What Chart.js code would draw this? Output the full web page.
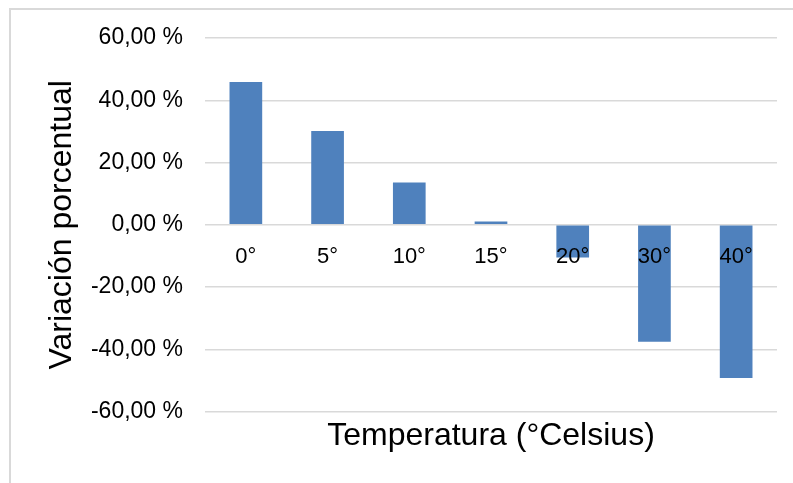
<!DOCTYPE html>
<html>
<head>
<meta charset="utf-8">
<script src="https://cdn.jsdelivr.net/npm/chart.js@4"></script>
<style>
    body { margin: 0; background: #fff; }
    #wrap { position: relative; width: 793px; height: 483px; }
    #frame {
        position: absolute; left: 9px; top: 8px; width: 784px; height: 475px;
        border-left: 2px solid #d9d9d9; border-top: 2px solid #d9d9d9;
        pointer-events: none;
    }
</style>
</head>
<body>
<div id="wrap">
    <canvas id="chart" width="793" height="483"></canvas>
    <div id="frame"></div>
</div>
<script>
// ===== DATA =====
const temperatures = ["0°", "5°", "10°", "15°", "20°", "30°", "40°"];
const variation = [45.9, 30.1, 13.6, 1.1, -10.5, -37.6, -49.2];
const yTicks = [-60, -40, -20, 0, 20, 40, 60];

const font = "'Liberation Sans', Arial, sans-serif";

// ===== FORMAT "60,00 %" =====
function pct(v) {
    return v.toFixed(2).replace(".", ",") + " %";
}

// ===== CHART =====
new Chart(document.getElementById("chart"), {
    type: "bar",
    data: {
        labels: temperatures,
        datasets: [{
            data: variation,
            backgroundColor: "#4f81bd",
            borderWidth: 0,
            categoryPercentage: 1,
            barPercentage: 0.4
        }]
    },
    options: {
        responsive: false,
        animation: false,
        layout: { padding: { left: 0, top: 38, right: 16, bottom: 0 } },
        plugins: {
            legend: { display: false },
            tooltip: { enabled: false },
            title: {
                display: true,
                position: "bottom",
                fullSize: false,
                text: "Temperatura (°Celsius)",
                color: "#000",
                font: { family: font, size: 32, weight: "normal", lineHeight: 1.2 },
                padding: { top: 5, bottom: 28 }
            }
        },
        scales: {
            x: {
                position: { y: 0 },
                grid: { display: false },
                border: { display: false },
                ticks: {
                    z: 1,
                    color: "#000",
                    padding: 11,
                    maxRotation: 0,
                    autoSkip: false,
                    font: { family: font, size: 22 }
                }
            },
            y: {
                min: -60,
                max: 60,
                afterFit: s => { s.width = 205; },
                afterBuildTicks: s => { s.ticks = yTicks.map(v => ({ value: v })); },
                grid: { color: "#d9d9d9", lineWidth: 1.5, drawTicks: false },
                border: { display: false },
                ticks: {
                    color: "#000",
                    padding: 22,
                    font: { family: font, size: 23 },
                    callback: v => pct(v)
                },
                title: {
                    display: true,
                    text: "Variación porcentual",
                    color: "#000",
                    font: { family: font, size: 32, lineHeight: 1.2 },
                    padding: { top: 43, bottom: 0 }
                }
            }
        }
    }
});
</script>
</body>
</html>
